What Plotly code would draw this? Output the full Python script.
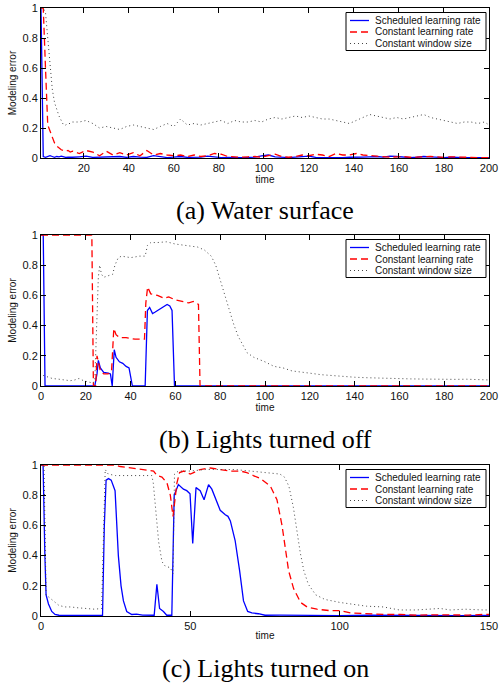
import plotly.graph_objects as go

# ---------------- (a) Water surface ----------------
a_time = [1, 2, 3, 4, 5, 6, 7, 8, 9, 10, 11, 12, 13, 14,
          15, 18, 21, 24, 27, 30, 33, 36, 39, 42, 45, 48, 51, 54, 57, 60, 63, 66, 69, 72,
          75, 78, 81, 84, 87, 90, 93, 96, 99, 102, 105, 108, 111, 114, 117, 120, 123, 126, 129, 132,
          135, 138, 141, 144, 147, 150, 153, 156, 159, 162, 165, 168, 171, 174, 177, 180, 183, 186, 189, 192,
          195, 198, 200]
a_sched = [1.0, 0.01, 0.005, 0.01, 0.015, 0.01, 0.005, 0.01, 0.008, 0.012, 0.006, 0.004, 0.005, 0.004,
           0.005, 0.008, 0.012, 0.004, 0.006, 0.003, 0.008, 0.01, 0.004, 0.01, 0.006, 0.004, 0.016, 0.008, 0.003, 0.006, 0.01, 0.004, 0.003, 0.006,
           0.012, 0.005, 0.003, 0.004, 0.006, 0.003, 0.004, 0.006, 0.014, 0.02, 0.008, 0.004, 0.003, 0.006, 0.01, 0.012, 0.004, 0.003, 0.006, 0.004,
           0.003, 0.005, 0.004, 0.006, 0.008, 0.01, 0.006, 0.012, 0.01, 0.004, 0.003, 0.005, 0.01, 0.008, 0.004, 0.003, 0.006, 0.003, 0.002, 0.003,
           0.002, 0.003, 0.002]
a_const_lr = [1.0, 1.0, 0.6, 0.22, 0.18, 0.14, 0.1, 0.08, 0.065, 0.055, 0.05, 0.045, 0.05, 0.04,
              0.045, 0.03, 0.05, 0.04, 0.015, 0.045, 0.02, 0.035, 0.02, 0.035, 0.015, 0.05, 0.02, 0.03, 0.02, 0.015, 0.02, 0.01, 0.02, 0.01,
              0.015, 0.03, 0.025, 0.01, 0.008, 0.005, 0.008, 0.01, 0.005, 0.015, 0.025, 0.01, 0.005, 0.01, 0.02, 0.015, 0.025, 0.02, 0.01, 0.03,
              0.02, 0.02, 0.03, 0.02, 0.015, 0.01, 0.008, 0.005, 0.008, 0.01, 0.005, 0.004, 0.008, 0.01, 0.005, 0.004, 0.008, 0.005, 0.006, 0.004,
              0.003, 0.004, 0.003]
a_const_win = [1.0, 1.0, 0.97, 0.8, 0.6, 0.46, 0.37, 0.32, 0.28, 0.25, 0.22, 0.22, 0.23, 0.23,
               0.24, 0.24, 0.25, 0.23, 0.2, 0.21, 0.2, 0.19, 0.21, 0.22, 0.21, 0.2, 0.19, 0.21, 0.23, 0.21, 0.26, 0.22, 0.23, 0.22,
               0.23, 0.24, 0.25, 0.23, 0.25, 0.24, 0.24, 0.25, 0.24, 0.26, 0.27, 0.26, 0.27, 0.28, 0.27, 0.28, 0.27, 0.26, 0.26, 0.25,
               0.24, 0.23, 0.25, 0.27, 0.29, 0.28, 0.27, 0.26, 0.27, 0.26, 0.27, 0.28, 0.29, 0.27, 0.26, 0.25, 0.24, 0.23, 0.24, 0.24,
               0.23, 0.24, 0.22]

# ---------------- (b) Lights turned off ----------------
b_sched_t = [0, 1, 1.8, 24, 25, 25.6, 26.5, 28, 30, 31, 31.8, 32.2, 32.7, 33.5, 35, 36.5, 38, 39.3, 40.8,
             46.5, 47.5, 48.5, 49.8, 51, 53, 55, 56.3, 57.5, 58.5, 59.6, 200]
b_sched_v = [1.0, 1.0, 0, 0, 0.08, 0.17, 0.12, 0.09, 0.085, 0.08, 0, 0.1, 0.24, 0.19, 0.16, 0.15, 0.13, 0.12, 0,
             0, 0.5, 0.52, 0.48, 0.49, 0.51, 0.53, 0.54, 0.53, 0.5, 0, 0]
b_lr_t = [0, 22.7, 23.4, 24.4, 25, 25.6, 26.5, 28, 30, 31.5, 32.5, 33.5, 35, 38, 42, 46.2, 46.8, 47.6, 49,
          52, 55, 57, 60, 63, 66, 68, 70.3, 71, 200]
b_lr_v = [1, 1, 0, 0, 0.2, 0.15, 0.1, 0.08, 0.08, 0.1, 0.38, 0.34, 0.32, 0.32, 0.31, 0.31, 0.55, 0.655, 0.61,
          0.6, 0.58, 0.59, 0.57, 0.56, 0.55, 0.56, 0.54, 0, 0]
b_win_t = [1, 3, 5, 8, 10, 13, 15, 17, 19, 21, 23, 24, 24.6, 25.1, 25.6, 26.2, 27, 28, 30, 32,
           33, 34.5, 36, 40, 44, 46.5, 47.5, 49, 52, 56, 60, 65, 70, 73, 76, 78, 80, 82, 84, 86,
           88, 90, 92, 95, 100, 104, 108, 112, 116, 120, 125, 130, 135, 140, 145, 150, 155, 160, 165, 170,
           175, 180, 185, 190, 195, 200]
b_win_v = [0.07, 0.06, 0.05, 0.045, 0.04, 0.035, 0.04, 0.05, 0.035, 0.025, 0.02, 0.03, 0.3, 0.6, 0.72, 0.8, 0.74, 0.72, 0.73, 0.74,
           0.8, 0.85, 0.86, 0.85, 0.86, 0.86, 0.93, 0.95, 0.95, 0.955, 0.94, 0.93, 0.92, 0.9, 0.86, 0.8, 0.7, 0.6, 0.5, 0.41,
           0.33, 0.27, 0.22, 0.19, 0.16, 0.13, 0.12, 0.1, 0.09, 0.085, 0.075, 0.068, 0.062, 0.058, 0.055, 0.052, 0.05, 0.049, 0.047, 0.046,
           0.045, 0.042, 0.044, 0.045, 0.042, 0.04]

# ---------------- (c) Lights turned on ----------------
c_sched_t = [0, 0.7, 1.3, 1.7, 2.5, 3.6, 4.7, 6, 10, 15, 20.6, 21.2, 21.8, 22.6, 23.5, 24.8, 25.9, 26.8, 27.6, 28.7,
             30.4, 32, 34, 37.9, 38.8, 39.7, 41, 42.1, 43.8, 44.6, 46, 47.7, 48.8, 49.9, 50.8, 51.9, 53.3, 54.6, 56.1, 57.2,
             58.7, 60, 61.7, 62.6, 63.4, 65, 66.5, 67.8, 69.2, 70.6, 72.8, 75, 80, 90, 100, 110, 120, 130, 140, 150]
c_sched_v = [1.0, 1.0, 0.4, 0.14, 0.08, 0.03, 0.01, 0.005, 0.004, 0.003, 0.004, 0.6, 0.9, 0.91, 0.9, 0.83, 0.4, 0.2, 0.1, 0.03,
             0.01, 0.012, 0.006, 0.005, 0.21, 0.05, 0.03, 0.005, 0.005, 0.8, 0.87, 0.84, 0.83, 0.81, 0.48, 0.85, 0.83, 0.77, 0.87, 0.84,
             0.77, 0.7, 0.67, 0.66, 0.63, 0.5, 0.3, 0.1, 0.03, 0.02, 0.015, 0.005, 0.006, 0.004, 0.003, 0.005, 0.003, 0.004, 0.003, 0.004]
c_lr_t = [0, 24.3, 26.5, 29.9, 33.2, 36, 37.7, 38.8, 40.5, 42.2, 43.3, 44.2, 44.7, 45.5, 46.4, 47.8, 48.9, 50, 51.1, 53.3,
          56.7, 60, 63.3, 66.7, 68.9, 71.1, 73.5, 76.8, 79, 80.7, 81.8, 82.9, 84.6, 86.9, 89.1, 92.4, 96.9, 100.2, 103.6, 109.1,
          114.8, 120.3, 125.8, 131, 137, 143, 148, 150]
c_lr_v = [1.0, 1.0, 0.99, 0.98, 0.97, 0.96, 0.96, 0.93, 0.92, 0.88, 0.8, 0.66, 0.75, 0.88, 0.95, 0.96, 0.95, 0.94, 0.95, 0.97,
          0.98, 0.97, 0.96, 0.96, 0.95, 0.93, 0.91, 0.86, 0.77, 0.6, 0.45, 0.3, 0.18, 0.09, 0.06, 0.045, 0.035, 0.035, 0.02, 0.015,
          0.01, 0.01, 0.005, 0.008, 0.005, 0.006, 0.01, 0.01]
c_win_t = [0, 1, 1.7, 3, 4, 6, 8, 10, 12, 15, 18, 20.3, 20.9, 21.5, 22.5, 25, 30, 35, 37.1, 37.6,
           38.2, 38.6, 39.4, 40.5, 41.6, 43.3, 44.2, 44.7, 46, 50, 55, 60, 65, 70, 75, 78,
           80, 81.5, 83, 84.5, 85.7, 86.8, 88, 89.5, 92, 95, 100, 103.5, 109, 114.6, 120, 125.7, 130, 133.6, 137, 142, 148, 150]
c_win_v = [1.0, 1.0, 0.14, 0.12, 0.1, 0.07, 0.06, 0.06, 0.055, 0.05, 0.045, 0.05, 0.6, 0.97, 0.94, 0.93, 0.93, 0.93, 0.93, 0.88,
           0.75, 0.65, 0.49, 0.36, 0.33, 0.32, 0.28, 0.94, 0.96, 0.96, 0.97, 0.97, 0.97, 0.96, 0.95, 0.94,
           0.94, 0.92, 0.86, 0.72, 0.55, 0.42, 0.3, 0.21, 0.14, 0.11, 0.09, 0.08, 0.065, 0.06, 0.04, 0.04, 0.045, 0.05, 0.04, 0.045, 0.04, 0.04]

series_names = ["Scheduled learning rate", "Constant learning rate", "Constant window size"]
y_ticks = [0, 0.2, 0.4, 0.6, 0.8, 1]
y_tick_text = ["0", "0.2", "0.4", "0.6", "0.8", "1"]
a_x_ticks = [20, 40, 60, 80, 100, 120, 140, 160, 180, 200]
b_x_ticks = [0, 20, 40, 60, 80, 100, 120, 140, 160, 180, 200]
c_x_ticks = [0, 50, 100, 150]
captions = ["(a) Water surface", "(b) Lights turned off", "(c) Lights turned on"]

W, H = 499, 687
PX_L, PX_R = 41, 489
panels_px = [(8, 158), (235, 386), (465, 616)]  # top, bottom in pixels

def px_x(p):
    return p / W

def px_y(p):
    return 1 - p / H

styles = [
    dict(color="#0000ff", width=1.3, dash="solid"),
    dict(color="#ff0000", width=1.3, dash="7px,4px"),
    dict(color="#444444", width=1.0, dash="1px,3px"),
]

panel_data = [
    ([a_time, a_time, a_time], [a_sched, a_const_lr, a_const_win], [1, 200], a_x_ticks),
    ([b_sched_t, b_lr_t, b_win_t], [b_sched_v, b_lr_v, b_win_v], [0, 200], b_x_ticks),
    ([c_sched_t, c_lr_t, c_win_t], [c_sched_v, c_lr_v, c_win_v], [0, 150], c_x_ticks),
]

fig = go.Figure()
sans = "Liberation Sans, Arial, sans-serif"
tick_font = dict(family=sans, size=11, color="#111")
title_font = dict(family=sans, size=10, color="#111")

layout_updates = {}
shapes = []
annotations = []
for i, ((ts, vs, xr, xt), (top, bot)) in enumerate(zip(panel_data, panels_px)):
    n = "" if i == 0 else str(i + 1)
    for j in range(3):
        fig.add_trace(go.Scatter(
            x=ts[j], y=vs[j], mode="lines", name=series_names[j],
            line=styles[j], xaxis="x" + n, yaxis="y" + n,
            showlegend=False,
        ))
    layout_updates["xaxis" + n] = dict(
        domain=[px_x(PX_L), px_x(PX_R)], anchor="y" + n, range=xr,
        tickmode="array", tickvals=xt, ticks="inside", ticklen=5, tickwidth=1,
        tickcolor="black", showline=True, linecolor="black", linewidth=1,
        mirror="ticks", showgrid=False, zeroline=False, tickfont=tick_font,
        automargin=False,
        title=dict(text="time", font=title_font, standoff=0),
    )
    layout_updates["yaxis" + n] = dict(
        domain=[px_y(bot), px_y(top)], anchor="x" + n, range=[0, 1],
        tickmode="array", tickvals=y_ticks, ticktext=y_tick_text,
        ticks="inside", ticklen=5, tickwidth=1, tickcolor="black",
        showline=True, linecolor="black", linewidth=1, mirror="ticks",
        showgrid=False, zeroline=False, tickfont=tick_font,
        automargin=False,
        title=dict(text="Modeling error", font=title_font, standoff=4),
    )
    # legend box (drawn like the original figure's boxed legend)
    lt = top + 4.5
    shapes.append(dict(type="rect", xref="paper", yref="paper",
                       x0=px_x(346), x1=px_x(486), y0=px_y(lt + 38), y1=px_y(lt),
                       line=dict(color="black", width=1), fillcolor="white", layer="above"))
    for j in range(3):
        ry = lt + 8 + j * 11.5
        shapes.append(dict(type="line", xref="paper", yref="paper",
                           x0=px_x(350), x1=px_x(369), y0=px_y(ry), y1=px_y(ry),
                           line=dict(color=styles[j]["color"], width=styles[j]["width"],
                                     dash=styles[j]["dash"]), layer="above"))
        annotations.append(dict(text=series_names[j], xref="paper", yref="paper",
                                x=px_x(373), y=px_y(ry), xanchor="left", yanchor="middle",
                                showarrow=False, font=dict(family=sans, size=10, color="#111")))

fig.update_layout(**layout_updates)

caption_y_px = [211, 439, 668]
for cap, cy in zip(captions, caption_y_px):
    annotations.append(dict(
        text=cap, xref="paper", yref="paper", x=px_x((PX_L + PX_R) / 2), y=px_y(cy),
        xanchor="center", yanchor="middle", showarrow=False,
        font=dict(family="Liberation Serif, Times New Roman, serif", size=26, color="black"),
    ))

fig.update_layout(
    width=W, height=H, margin=dict(l=0, r=0, t=0, b=0, autoexpand=False),
    paper_bgcolor="white", plot_bgcolor="white",
    annotations=annotations, shapes=shapes,
)

fig.write_html("out.html", config={"displayModeBar": False},
               post_script="document.body.style.margin='0';")
